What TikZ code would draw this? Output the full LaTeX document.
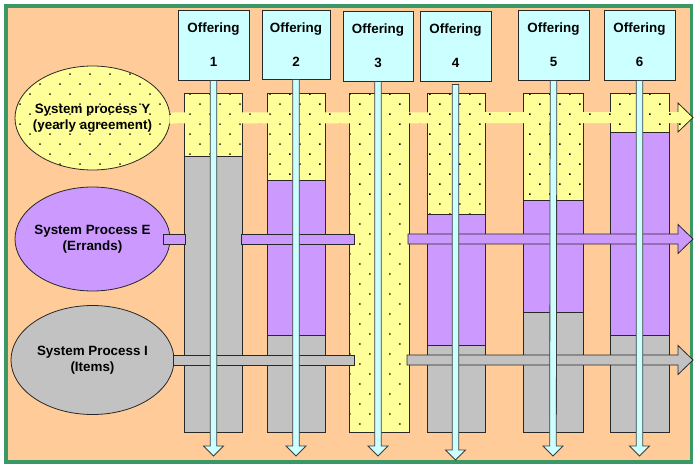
\documentclass[tikz,border=0pt]{standalone}
\usepackage{fontspec}
\setmainfont{Liberation Sans}
\usetikzlibrary{shapes.geometric,patterns.meta,calc}
\definecolor{bg}{RGB}{255,204,153}
\definecolor{frame}{RGB}{58,152,102}
\definecolor{yel}{RGB}{255,255,153}
\definecolor{pur}{RGB}{204,153,255}
\definecolor{gry}{RGB}{194,194,194}
\definecolor{cy}{RGB}{204,255,255}
\definecolor{edge}{RGB}{40,40,40}

\tikzset{
  yelfill/.style={preaction={fill=yel}, pattern={Dots[distance=14.14pt,radius=1pt,angle=45]}, pattern color=black},
  purfill/.style={fill=pur},
  gryfill/.style={fill=gry},
  outl/.style={draw=edge, line width=0.8pt},
  offerbox/.style={draw=edge, line width=0.8pt, fill=cy, minimum width=71pt, minimum height=70pt,
     inner sep=0pt, align=center, font=\fontsize{13.4}{17}\selectfont\bfseries},
  procell/.style={ellipse, draw=edge, line width=0.8pt, inner xsep=-10pt, inner ysep=0pt, align=center,
     font=\fontsize{13.4}{16.5}\selectfont\bfseries},
  cyanarr/.style={fill=cy, draw=edge!90, line width=0.8pt, line join=miter},
}

% vertical cyan arrow: box name, tip coordinate name, gap below box
\newcommand\varr[3]{%
  \filldraw[cyanarr] ($(#1.south)+(-3.3,#3)$) -- ($(#1.south)+(3.3,#3)$) -- ($(#2)+(3.3,-10)$)
    -- ($(#2)+(10,-10)$) -- (#2) -- ($(#2)+(-10,-10)$) -- ($(#2)+(-3.3,-10)$) -- cycle;}

% column segment: x0 x1 y0 y1 style
\newcommand\colseg[5]{\path[#5, outl] (#1,#3) rectangle (#2,#4);}

\begin{document}
\begin{tikzpicture}[x=1pt,y=-1pt]
\useasboundingbox (0,0) rectangle (696,464);
\fill[white] (0,0) rectangle (696,464);
\draw[frame, line width=3.8pt, fill=bg] (6,6) rectangle (691.5,462.3);

% Offering boxes
\node[offerbox] (o1) at (213.5,45) {Offering\\[17pt]1};
\node[offerbox, minimum width=68pt, minimum height=69pt] (o2) at (296,44.5) {Offering\\[17pt]2};
\node[offerbox, minimum width=70pt] (o3) at (378,46) {Offering\\[17pt]3};
\node[offerbox] (o4) at (455.5,46) {Offering\\[17pt]4};
\node[offerbox] (o5) at (553.5,45) {Offering\\[17pt]5};
\node[offerbox] (o6) at (639.5,45) {Offering\\[17pt]6};

% Process ellipses
\node[procell, yelfill, minimum width=155pt, minimum height=104pt] (ey) at (92.5,118) {System process Y\\(yearly agreement)};
\node[procell, purfill, minimum width=155pt, minimum height=104pt] (ee) at (92.5,239) {System Process E\\(Errands)};
\node[procell, gryfill, minimum width=163pt, minimum height=109pt] (ei) at (92.5,360) {System Process I\\(Items)};

% Columns
\colseg{184}{242}{93}{156}{yelfill}
\colseg{184}{242}{156}{432}{gryfill}
\colseg{267}{325}{93}{180}{yelfill}
\colseg{267}{325}{180}{335}{purfill}
\colseg{267}{325}{335}{432}{gryfill}
\colseg{349}{409}{93}{432}{yelfill}
\colseg{427}{485}{93}{214}{yelfill}
\colseg{427}{485}{214}{345}{purfill}
\colseg{427}{485}{345}{432}{gryfill}
\colseg{523}{583}{93}{200}{yelfill}
\colseg{523}{583}{200}{312}{purfill}
\colseg{523}{583}{312}{432}{gryfill}
\colseg{610}{669}{93}{132}{yelfill}
\colseg{610}{669}{132}{335}{purfill}
\colseg{610}{669}{335}{432}{gryfill}

% Tip coordinates
\coordinate (ty) at (693,117.5);
\coordinate (te) at (693,239);
\coordinate (ti) at (693,360);

% E arrow (pieces)
\path[purfill, outl] ($(ee.east)+(-7,-5)$) rectangle (185,244);
\path[purfill, outl] (241,234) rectangle (354,244);
\path[purfill, outl, line join=miter] (408,234) -- ($(te)+(-15,-5)$) -- ($(te)+(-15,-14.5)$) -- (te)
   -- ($(te)+(-15,14.5)$) -- ($(te)+(-15,5)$) -- (408,244) -- cycle;

% I arrow (pieces)
\path[gryfill, outl] ($(ei.east)+(-1,-5)$) rectangle (354,365);
\path[gryfill, outl, line join=miter] (407,355) -- ($(ti)+(-15,-5)$) -- ($(ti)+(-15,-14.5)$) -- (ti)
   -- ($(ti)+(-15,14.5)$) -- ($(ti)+(-15,5)$) -- (407,365) -- cycle;

% Y arrow
\path[yelfill] ($(ey.east)+(-1,-5.5)$) -- ($(ty)+(-15,-5.5)$) -- ($(ty)+(-15,-14.5)$) -- (ty)
   -- ($(ty)+(-15,14.5)$) -- ($(ty)+(-15,5.5)$) -- ($(ey.east)+(-1,5.5)$) -- cycle;
\draw[edge, line width=0.8pt, line join=miter] ($(ty)+(-15,-5.5)$) -- ($(ty)+(-15,-14.5)$) -- (ty)
   -- ($(ty)+(-15,14.5)$) -- ($(ty)+(-15,5.5)$);

% Cyan vertical arrows
\coordinate (t1) at (213.5,456);
\coordinate (t2) at (296,456);
\coordinate (t3) at (378,456);
\coordinate (t4) at (455.5,460);
\coordinate (t5) at (553,456);
\coordinate (t6) at (639.5,456);
\varr{o1}{t1}{0}
\varr{o2}{t2}{0}
\varr{o3}{t3}{0}
\varr{o4}{t4}{3}
\varr{o5}{t5}{0}
\varr{o6}{t6}{0}
\end{tikzpicture}
\end{document}
